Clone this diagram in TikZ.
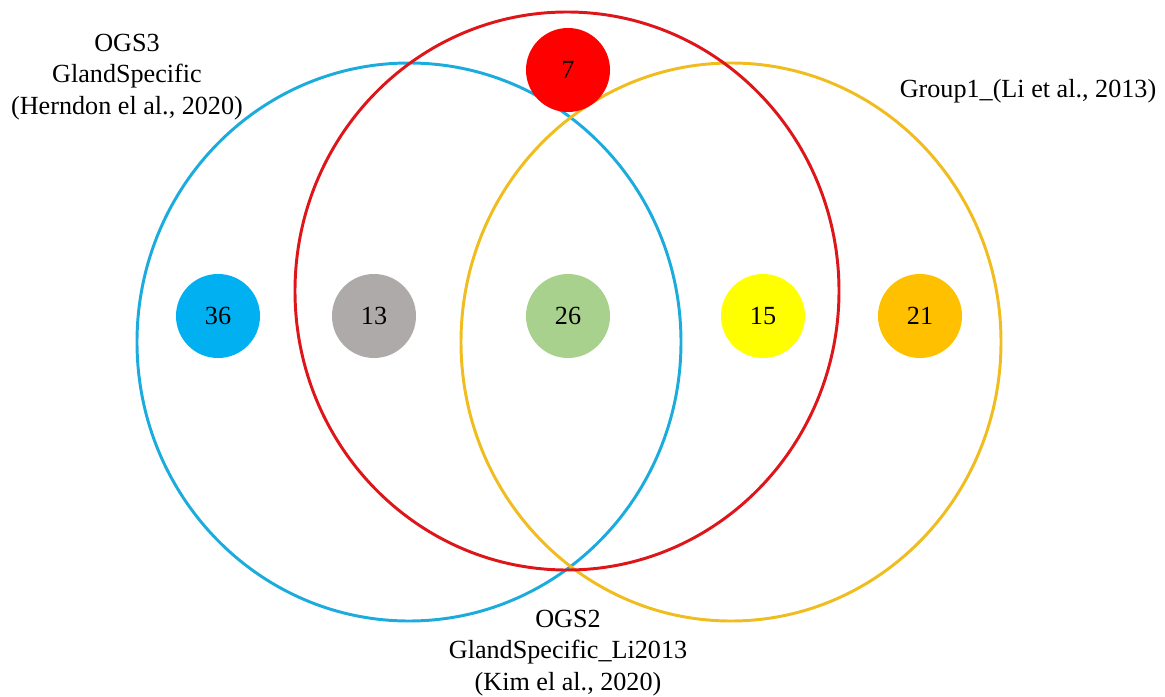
\documentclass[tikz,border=0pt]{standalone}
\usepackage{fontspec}
\setmainfont{Liberation Serif}

\definecolor{ogsblue}{RGB}{27,172,221}
\definecolor{grpred}{RGB}{222,22,26}
\definecolor{grpyellow}{RGB}{240,188,30}
\definecolor{fillblue}{RGB}{0,176,240}
\definecolor{fillgray}{RGB}{174,170,170}
\definecolor{fillgreen}{RGB}{169,209,142}
\definecolor{fillyellow}{RGB}{255,255,0}
\definecolor{fillorange}{RGB}{255,192,0}
\definecolor{fillred}{RGB}{255,0,0}

\tikzset{
	setline/.style={line width=2.1pt},
	count/.style={circle, minimum size=2.1cm, inner sep=0pt, font=\fontsize{18.6}{22.4}\selectfont},
	setname/.style={align=center, inner sep=0pt, font=\fontsize{18.6}{22.4}\selectfont}
}

\begin{document}
\begin{tikzpicture}[x=0.025cm,y=-0.025cm]
		\useasboundingbox (0,0) rectangle (1165,697);
		
		\draw[setline, ogsblue] (409,342) ellipse (272 and 279);
		\draw[setline, grpyellow] (731,342) ellipse (270 and 279);
		\draw[setline, grpred] (567,291) ellipse (272 and 279);
		
		\node[count, fill=fillblue] (n36) at (218,316) {36};
		\node[count, fill=fillgray] (n13) at (374,316) {13};
		\node[count, fill=fillgreen] (n26) at (568,316) {26};
		\node[count, fill=fillyellow] (n15) at (763,316) {15};
		\node[count, fill=fillorange] (n21) at (920,316) {21};
		\node[count, fill=fillred] (n7) at (568,70) {7};
		
		\node[setname] (ogs3) at (127,77) {OGS3\\GlandSpecific\\(Herndon el al., 2020)};
		\node[setname] (group1) at (1028,91) {Group1\_(Li et al., 2013)};
		\node[setname] (ogs2) at (568,653) {OGS2\\GlandSpecific\_Li2013\\(Kim el al., 2020)};

	\end{tikzpicture}
\end{document}
